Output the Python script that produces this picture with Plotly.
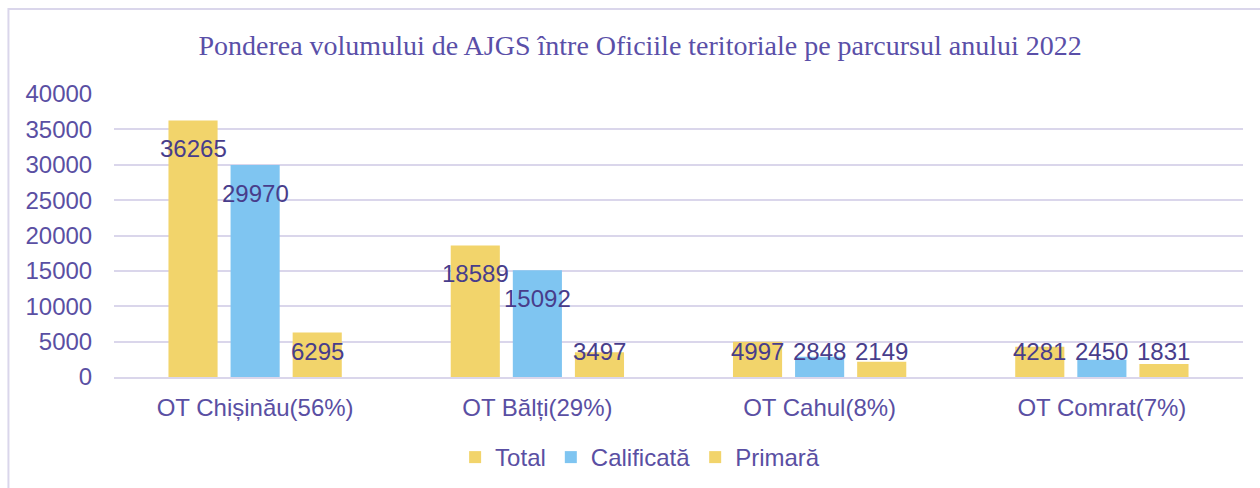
import plotly.graph_objects as go

categories = ["OT Chișinău(56%)", "OT Bălți(29%)", "OT Cahul(8%)", "OT Comrat(7%)"]
series_names = ["Total", "Calificată", "Primară"]
total = [36265, 18589, 4997, 4281]
calificata = [29970, 15092, 2848, 2450]
primara = [6295, 3497, 2149, 1831]
y_ticks = [0, 5000, 10000, 15000, 20000, 25000, 30000, 35000, 40000]
y_tick_labels = ["0", "5000", "10000", "15000", "20000", "25000", "30000", "35000", "40000"]

series_values = [total, calificata, primara]
colors = ["#F2D46B", "#7FC5F1", "#F2D46B"]
text_color = "#5A4FA3"
label_color = "#483D8B"
grid_color = "#DAD6EB"
font_family = "Liberation Sans, Arial, sans-serif"
fs = 24

slot = 0.22
bar_w = 0.174
idx = list(range(len(categories)))

fig = go.Figure()
for i, (name, vals, col) in enumerate(zip(series_names, series_values, colors)):
    off = (i - 1) * slot
    xs = [k + off for k in idx]
    fig.add_trace(go.Bar(x=xs, y=vals, width=bar_w, name=name,
                         marker=dict(color=col, line=dict(width=0)),
                         hoverinfo="y"))
    for x, v in zip(xs, vals):
        if v >= 6900:
            fig.add_annotation(x=x, y=v, xref="x", yref="y", text=str(v),
                               showarrow=False, yanchor="top", yshift=-13,
                               font=dict(size=fs, color=label_color, family=font_family))
        else:
            fig.add_annotation(x=x, y=0, xref="x", yref="y", text=str(v),
                               showarrow=False, yanchor="bottom", yshift=10,
                               font=dict(size=fs, color=label_color, family=font_family))

fig.add_shape(type="rect", xref="paper", yref="paper", x0=-0.0935, x1=1.1,
              y0=-0.6, y1=1.3, line=dict(color=grid_color, width=2), layer="below")

fig.update_layout(
    width=1260, height=488,
    margin=dict(l=114, r=17, t=94, b=111, autoexpand=False),
    paper_bgcolor="white", plot_bgcolor="white",
    barmode="overlay",
    title=dict(text="Ponderea volumului de AJGS între Oficiile teritoriale pe parcursul anului 2022",
               x=0.508, xref="container", xanchor="center", y=0.907, yanchor="middle",
               font=dict(family="Liberation Serif, serif", size=28, color="#5A4FA8")),
    xaxis=dict(range=[-0.5, 3.5], tickvals=idx, ticktext=categories, showgrid=False,
               zeroline=False, showline=True, linecolor=grid_color, linewidth=2,
               ticks="outside", ticklen=8, tickcolor="rgba(0,0,0,0)",
               tickfont=dict(size=fs, color=text_color, family=font_family),
               fixedrange=True),
    yaxis=dict(range=[0, 40000], tickvals=y_ticks, ticktext=y_tick_labels,
               showgrid=True, gridcolor=grid_color,
               gridwidth=2, zeroline=False, showline=False, ticks="outside",
               ticklen=16, tickcolor="rgba(0,0,0,0)",
               tickfont=dict(size=fs, color=text_color, family=font_family),
               fixedrange=True),
    legend=dict(orientation="h", x=0.466, xanchor="center", y=-0.205, yanchor="top",
                font=dict(size=fs, color=text_color, family=font_family),
                itemwidth=30, traceorder="normal"),
    showlegend=True,
)

fig.write_html("out.html")
